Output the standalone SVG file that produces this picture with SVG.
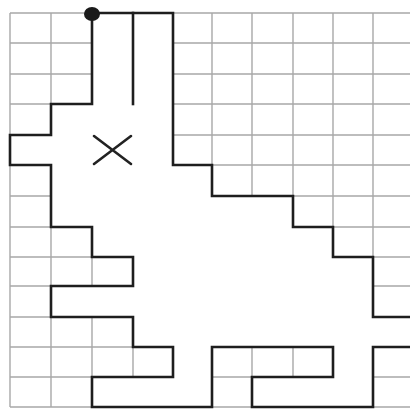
<svg xmlns="http://www.w3.org/2000/svg" width="410" height="409" viewBox="0 0 410 409">
<style>
.grid{stroke:#a8a8a8;stroke-width:1.4;fill:none}
.wall{stroke:#1e1e1e;stroke-width:2.6;fill:none;stroke-linecap:square;stroke-linejoin:miter}
.open{fill:#ffffff;stroke:none}
</style>
<rect x="0" y="0" width="410" height="409" fill="#ffffff"/>
<g id="grid" class="grid">
<path d="M10 13H410M10 43H410M10 74H410M10 104H410M10 135H410M10 165H410M10 196H410M10 227H410M10 257H410M10 286H410M10 317H410M10 347H410M10 377H410M10 407H410"/>
<path d="M10 13V407M51 13V407M92 13V407M133 13V407M173 13V407M212 13V407M252 13V407M293 13V407M333 13V407M373 13V407"/>
</g>
<g id="open-area">
<path class="open" d="M92 13H173V165H212V196H293V227H333V257H373V317H412V347H373V407H252V377H333V347H212V407H92V377H173V347H133V317H51V286H133V257H92V227H51V165H10V135H51V104H92Z"/>
</g>
<g id="walls" class="wall">
<path d="M412 317H373V257H333V227H293V196H212V165H173V13H92V104H51V135H10V165H51V227H92V257H133V286H51V317H133V347H173V377H92V407H212V347H333V377H252V407H373V347H412"/>
<path d="M133 13V104"/>
</g>
<g id="start">
<ellipse cx="92" cy="14" rx="8" ry="7" fill="#1a1a1a"/>
</g>
<g id="x-mark" stroke="#222" stroke-width="2.6" stroke-linecap="round">
<path d="M94 136L131 164M131 136L94 164"/>
</g>
</svg>
